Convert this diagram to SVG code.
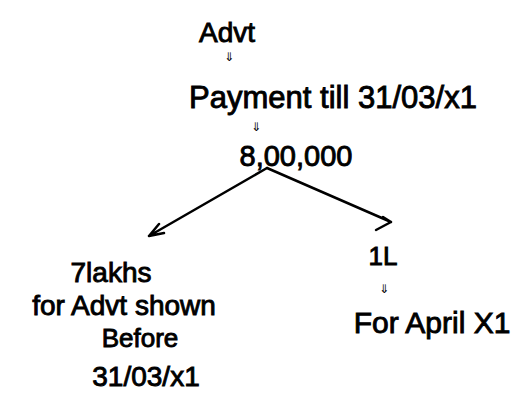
<svg xmlns="http://www.w3.org/2000/svg" width="516" height="397" viewBox="0 0 516 397">
<style>
.t{font-family:"Liberation Sans",Arial,sans-serif;fill:#000;text-anchor:middle;stroke:#000;stroke-width:0.9}
.a{font-family:"DejaVu Sans",sans-serif;font-size:12px;fill:#000;text-anchor:middle}
.c{stroke:#000;stroke-width:2.5;fill:none;stroke-linecap:round;stroke-linejoin:round}
</style>
<rect width="516" height="397" fill="#fff"/>
<g id="advt"><text class="t" x="227" y="42" font-size="28">Advt</text></g>
<g id="arr1"><text class="a" x="229" y="61">⇓</text></g>
<g id="payment"><text class="t" x="333" y="108" font-size="31">Payment till  31/03/x1</text></g>
<g id="arr2"><text class="a" x="256" y="131">⇓</text></g>
<g id="amount"><text class="t" x="296" y="166" font-size="29">8,00,000</text></g>
<g id="left"><text class="t" x="111" y="282" font-size="28">7lakhs</text>
<text class="t" x="124" y="315" font-size="28">for Advt shown</text>
<text class="t" x="140" y="347" font-size="26">Before</text>
<text class="t" x="146" y="386" font-size="28">31/03/x1</text></g>
<g id="right"><text class="t" x="383" y="265" font-size="26">1L</text>
<text class="a" x="384" y="293">⇓</text>
<text class="t" x="432" y="333" font-size="30">For April X1</text></g>
<g id="connectors">
<path class="c" d="M267,168 L149,236 M149,236 L159,224 M149,236 L164,233"/>
<path class="c" d="M267,168 L391,222 M391,222 L376,230 M391,222 L383,217"/>
</g>
</svg>
